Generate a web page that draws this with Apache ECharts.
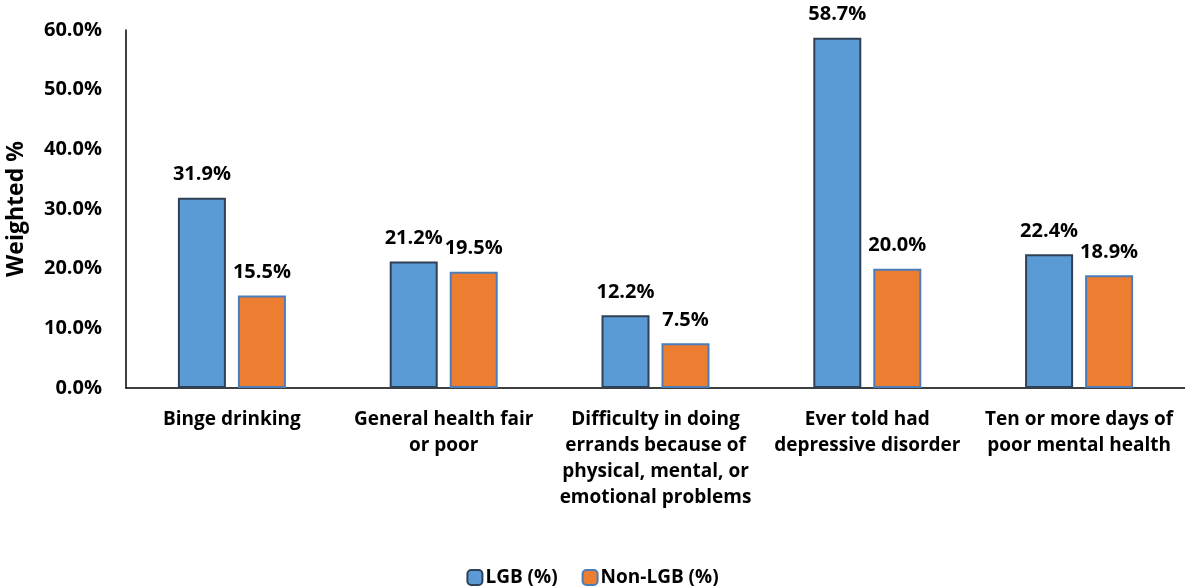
<!DOCTYPE html>
<html>
<head>
<meta charset="utf-8">
<script src="https://cdn.jsdelivr.net/npm/echarts@6/dist/echarts.min.js"></script>
<style>
  html, body { margin: 0; padding: 0; background: #fff; }
  #chart { width: 1185px; height: 586px; }
</style>
</head>
<body>
<div id="chart"></div>
<script>
// categories on the x axis
const categories = [
  "Binge drinking",
  "General health fair\nor poor",
  "Difficulty in doing\nerrands because of\nphysical, mental, or\nemotional problems",
  "Ever told had\ndepressive disorder",
  "Ten or more days of\npoor mental health"
];
// weighted % values
const lgb = [31.9, 21.2, 12.2, 58.7, 22.4];
const nonLgb = [15.5, 19.5, 7.5, 20.0, 18.9];

const font = "'Open Sans', 'Liberation Sans', sans-serif";

let myChart = echarts.init(document.getElementById("chart"));
myChart.setOption({
  animation: false,
  textStyle: { fontFamily: font },
  grid: {
    left: 126,
    right: 0,
    top: 30,
    bottom: 198,
    containLabel: false,
    outerBoundsMode: "none"
  },
  legend: {
    top: 563,
    left: "center",
    itemWidth: 15,
    itemHeight: 15,
    itemGap: 24,
    textStyle: {
      color: "#000",
      fontSize: 19,
      fontWeight: "bold",
      fontFamily: font,
      padding: [0, 0, 0, -2]
    },
    data: ["LGB (%)", "Non-LGB (%)"]
  },
  xAxis: {
    type: "category",
    data: categories,
    axisLine: { lineStyle: { color: "#000", width: 1.5 } },
    axisTick: { show: false },
    axisLabel: {
      color: "#000",
      fontSize: 19,
      fontWeight: "bold",
      lineHeight: 26,
      margin: 19,
      interval: 0,
      fontFamily: font
    }
  },
  yAxis: {
    type: "value",
    min: 0,
    max: 60,
    interval: 10,
    name: "Weighted %",
    nameLocation: "middle",
    nameGap: 98,
    nameTextStyle: {
      color: "#000",
      fontSize: 23,
      fontWeight: "bold",
      fontFamily: font
    },
    axisLine: { show: true, lineStyle: { color: "#000", width: 1.5 } },
    axisTick: { show: false },
    splitLine: { show: false },
    axisLabel: {
      color: "#000",
      fontSize: 20,
      fontWeight: "bold",
      margin: 24,
      fontFamily: font,
      formatter: v => v.toFixed(1) + "%"
    }
  },
  series: [
    {
      name: "LGB (%)",
      type: "bar",
      data: lgb,
      barWidth: 48,
      barGap: "25%",
      itemStyle: { color: "#5B9BD5", borderColor: "#2F4156", borderWidth: 2 },
      label: {
        show: true,
        position: "top",
        distance: 13,
        color: "#000",
        fontSize: 20,
        fontWeight: "bold",
        fontFamily: font,
        formatter: p => p.value.toFixed(1) + "%"
      }
    },
    {
      name: "Non-LGB (%)",
      type: "bar",
      data: nonLgb,
      barWidth: 48,
      itemStyle: { color: "#ED7D31", borderColor: "#4A7EBB", borderWidth: 2 },
      label: {
        show: true,
        position: "top",
        distance: 13,
        color: "#000",
        fontSize: 20,
        fontWeight: "bold",
        fontFamily: font,
        formatter: p => p.value.toFixed(1) + "%"
      }
    }
  ]
});
</script>
</body>
</html>
